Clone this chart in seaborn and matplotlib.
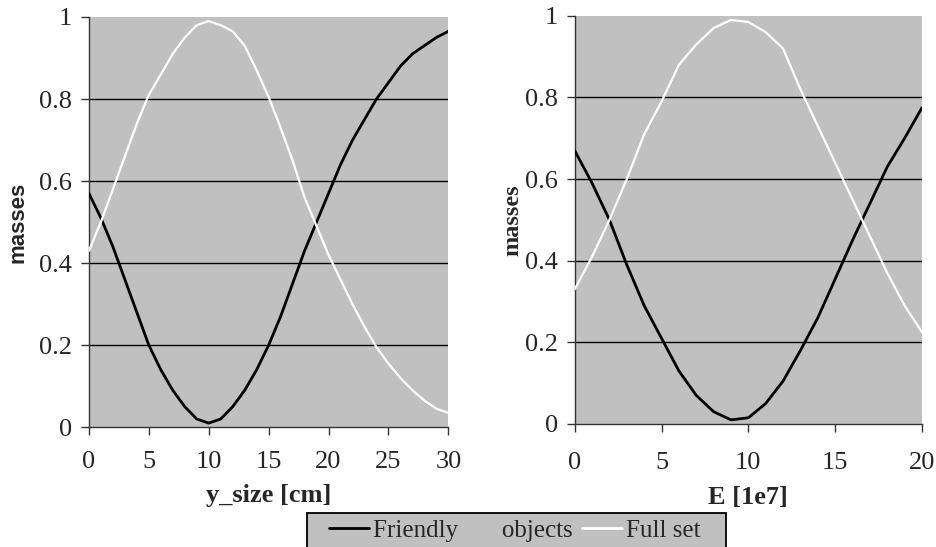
import numpy as np
import pandas as pd
import matplotlib
matplotlib.use("Agg")
import matplotlib.pyplot as plt
import seaborn as sns
from matplotlib.lines import Line2D
from matplotlib.patches import Rectangle

# ---- data ----
y_size = list(range(0, 31))
friendly_y = [0.57, 0.51, 0.44, 0.36, 0.28, 0.20, 0.14, 0.09, 0.05, 0.02, 0.01,
              0.02, 0.05, 0.09, 0.14, 0.20, 0.27, 0.35, 0.43, 0.50, 0.57,
              0.64, 0.70, 0.75, 0.80, 0.84, 0.88, 0.91, 0.93, 0.95, 0.965]
full_y = [0.43, 0.50, 0.58, 0.66, 0.74, 0.81, 0.86, 0.91, 0.95, 0.98, 0.99,
          0.98, 0.965, 0.93, 0.87, 0.805, 0.73, 0.65, 0.56, 0.49, 0.42,
          0.36, 0.30, 0.245, 0.195, 0.155, 0.12, 0.09, 0.065, 0.045, 0.035]

energy = list(range(0, 21))
friendly_e = [0.67, 0.59, 0.50, 0.39, 0.29, 0.21, 0.13, 0.07, 0.03, 0.01, 0.015,
              0.05, 0.105, 0.18, 0.26, 0.355, 0.45, 0.54, 0.63, 0.70, 0.775]
full_e = [0.33, 0.41, 0.50, 0.60, 0.71, 0.79, 0.88, 0.93, 0.97, 0.99, 0.985,
          0.96, 0.92, 0.82, 0.73, 0.64, 0.55, 0.46, 0.37, 0.29, 0.225]

series_names = ["Friendly       objects", "Full set"]
left_xticks = [0, 5, 10, 15, 20, 25, 30]
right_xticks = [0, 5, 10, 15, 20]
yticks = [0, 0.2, 0.4, 0.6, 0.8, 1]
ytick_labels = ["0", "0.2", "0.4", "0.6", "0.8", "1"]

df_left = pd.DataFrame({
    "x": y_size * 2,
    "mass": friendly_y + full_y,
    "series": [series_names[0]] * len(y_size) + [series_names[1]] * len(y_size),
})
df_right = pd.DataFrame({
    "x": energy * 2,
    "mass": friendly_e + full_e,
    "series": [series_names[0]] * len(energy) + [series_names[1]] * len(energy),
})

sns.set_theme(style="white")
plt.rcParams["font.family"] = ["Liberation Serif", "DejaVu Serif"]

palette = {series_names[0]: "black", series_names[1]: "white"}
GRAY = "#c0c0c0"

fig = plt.figure(figsize=(9.36, 5.47), dpi=100)
fig.patch.set_facecolor("white")
ax1 = fig.add_axes([0.095, 0.219, 0.384, 0.750])
ax2 = fig.add_axes([0.614, 0.225, 0.371, 0.746])

def style(ax, xmax, xticks, xlabel, ylabel_font, ylabel_size, xpad, ypad, xlpad):
    ax.set_facecolor(GRAY)
    ax.set_xlim(0, xmax)
    ax.set_ylim(0, 1)
    ax.set_xticks(xticks)
    ax.set_xticklabels([str(t) for t in xticks])
    ax.set_yticks(yticks)
    ax.set_yticklabels(ytick_labels)
    for yv in yticks[1:-1]:
        ax.axhline(yv, color="black", lw=1.0, zorder=1)
    for s in ["top", "right"]:
        ax.spines[s].set_visible(False)
    for s in ["left", "bottom"]:
        ax.spines[s].set_color("#333333")
        ax.spines[s].set_linewidth(1.0)
    ax.tick_params(axis="both", which="major", direction="out", length=6,
                   width=1, color="#333333", labelsize=19,
                   bottom=True, left=True)
    ax.tick_params(axis="x", pad=xpad)
    ax.tick_params(axis="y", pad=6)
    ax.set_xlabel(xlabel, fontsize=19, fontweight="bold",
                  family=["Liberation Serif"], labelpad=xlpad)
    ax.set_ylabel("masses", fontsize=ylabel_size, fontweight="bold",
                  family=ylabel_font, labelpad=ypad)
    ax.grid(False)

sns.lineplot(data=df_left, x="x", y="mass", hue="series", palette=palette,
             ax=ax1, linewidth=2.0, legend=False, zorder=3)
sns.lineplot(data=df_right, x="x", y="mass", hue="series", palette=palette,
             ax=ax2, linewidth=2.0, legend=False, zorder=3)
for ax in (ax1, ax2):
    ax.lines[1].set_linewidth(1.6)

style(ax1, 30, left_xticks, "y_size [cm]", ["Liberation Sans"], 16, 11, 8, 8)
style(ax2, 20, right_xticks, "E [1e7]", ["Liberation Serif"], 17.5, 14, 1, 9)

# legend box (gray, black border) spanning the reference's extent
W, H = 936.0, 547.0
box = Rectangle((307 / W, -0.05), (726 - 307) / W, (547 - 513) / H + 0.05,
                transform=fig.transFigure, facecolor=GRAY, edgecolor="black",
                linewidth=1.3, zorder=0)
fig.patches.append(box)

handles = [Line2D([0], [0], color="black", lw=2),
           Line2D([0], [0], color="white", lw=2)]
leg = fig.legend(handles, series_names, loc="upper center",
                 bbox_to_anchor=(0.550, 0.062),
                 ncol=2, frameon=False, fontsize=18,
                 handlelength=1.6, handletextpad=0.15, columnspacing=0.4,
                 borderpad=0.25, borderaxespad=0)

fig.savefig("out.png", dpi=100)
